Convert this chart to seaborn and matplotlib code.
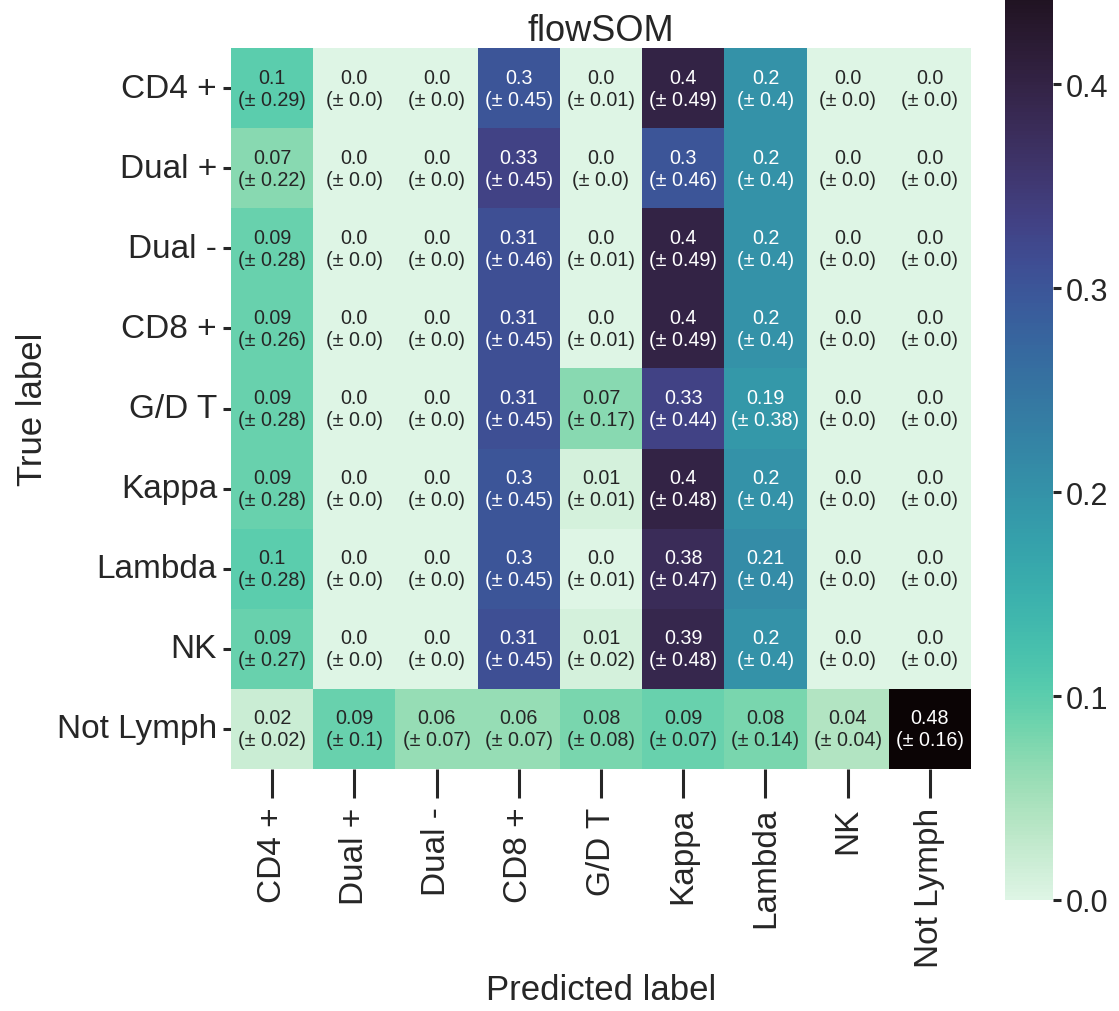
import numpy as np
import pandas as pd
import seaborn as sns
import matplotlib
matplotlib.use("Agg")
import matplotlib.pyplot as plt

labels = ["CD4 +", "Dual +", "Dual -", "CD8 +", "G/D T", "Kappa", "Lambda", "NK", "Not Lymph"]

mean_cd4 = [0.1, 0.0, 0.0, 0.3, 0.0, 0.4, 0.2, 0.0, 0.0]
mean_dualp = [0.07, 0.0, 0.0, 0.33, 0.0, 0.3, 0.2, 0.0, 0.0]
mean_dualm = [0.09, 0.0, 0.0, 0.31, 0.0, 0.4, 0.2, 0.0, 0.0]
mean_cd8 = [0.09, 0.0, 0.0, 0.31, 0.0, 0.4, 0.2, 0.0, 0.0]
mean_gdt = [0.09, 0.0, 0.0, 0.31, 0.07, 0.33, 0.19, 0.0, 0.0]
mean_kappa = [0.09, 0.0, 0.0, 0.3, 0.01, 0.4, 0.2, 0.0, 0.0]
mean_lambda = [0.1, 0.0, 0.0, 0.3, 0.0, 0.38, 0.21, 0.0, 0.0]
mean_nk = [0.09, 0.0, 0.0, 0.31, 0.01, 0.39, 0.2, 0.0, 0.0]
mean_notl = [0.02, 0.09, 0.06, 0.06, 0.08, 0.09, 0.08, 0.04, 0.48]

std_cd4 = [0.29, 0.0, 0.0, 0.45, 0.01, 0.49, 0.4, 0.0, 0.0]
std_dualp = [0.22, 0.0, 0.0, 0.45, 0.0, 0.46, 0.4, 0.0, 0.0]
std_dualm = [0.28, 0.0, 0.0, 0.46, 0.01, 0.49, 0.4, 0.0, 0.0]
std_cd8 = [0.26, 0.0, 0.0, 0.45, 0.01, 0.49, 0.4, 0.0, 0.0]
std_gdt = [0.28, 0.0, 0.0, 0.45, 0.17, 0.44, 0.38, 0.0, 0.0]
std_kappa = [0.28, 0.0, 0.0, 0.45, 0.01, 0.48, 0.4, 0.0, 0.0]
std_lambda = [0.28, 0.0, 0.0, 0.45, 0.01, 0.47, 0.4, 0.0, 0.0]
std_nk = [0.27, 0.0, 0.0, 0.45, 0.02, 0.48, 0.4, 0.0, 0.0]
std_notl = [0.02, 0.1, 0.07, 0.07, 0.08, 0.07, 0.14, 0.04, 0.16]

means = np.array([mean_cd4, mean_dualp, mean_dualm, mean_cd8, mean_gdt,
                  mean_kappa, mean_lambda, mean_nk, mean_notl])
stds = np.array([std_cd4, std_dualp, std_dualm, std_cd8, std_gdt,
                 std_kappa, std_lambda, std_nk, std_notl])

annot = np.array([[f"{m}\n(\u00b1 {s})" for m, s in zip(mr, sr)]
                  for mr, sr in zip(means, stds)])

df = pd.DataFrame(means, index=labels, columns=labels)

sns.set_theme(style="ticks")
plt.rcParams['font.family'] = ['Liberation Sans', 'DejaVu Sans']

fig = plt.figure(figsize=(11.19, 10.12), dpi=100)
ax = fig.add_axes([231/1119, 1 - 770/1012, 740/1119, 721/1012])
cax = fig.add_axes([1005/1119, 1 - 901/1012, 48/1119, 979/1012])

sns.heatmap(df, ax=ax, cbar_ax=cax, cmap="mako_r", annot=annot, fmt="",
            annot_kws={"fontsize": 14.2, "linespacing": 1.2}, square=False,
            vmin=0.0, vmax=0.48)

ax.set_title("flowSOM", fontsize=26, pad=3)
ax.set_xlabel("Predicted label", fontsize=25)
ax.xaxis.set_label_coords(0.5, (770 - 974) / 721)
ax.xaxis.label.set_va("top")
ax.set_ylabel("True label", fontsize=25, labelpad=6)
ax.tick_params(axis="x", labelsize=24, length=21, width=2.2, rotation=90, pad=6)
ax.tick_params(axis="y", labelsize=24, length=6, width=2.2, rotation=0, pad=4)
cax.tick_params(labelsize=22, length=6, width=2.2, pad=3)
cax.set_yticks([0.0, 0.1, 0.2, 0.3, 0.4])

fig.savefig("out.png", dpi=100)
